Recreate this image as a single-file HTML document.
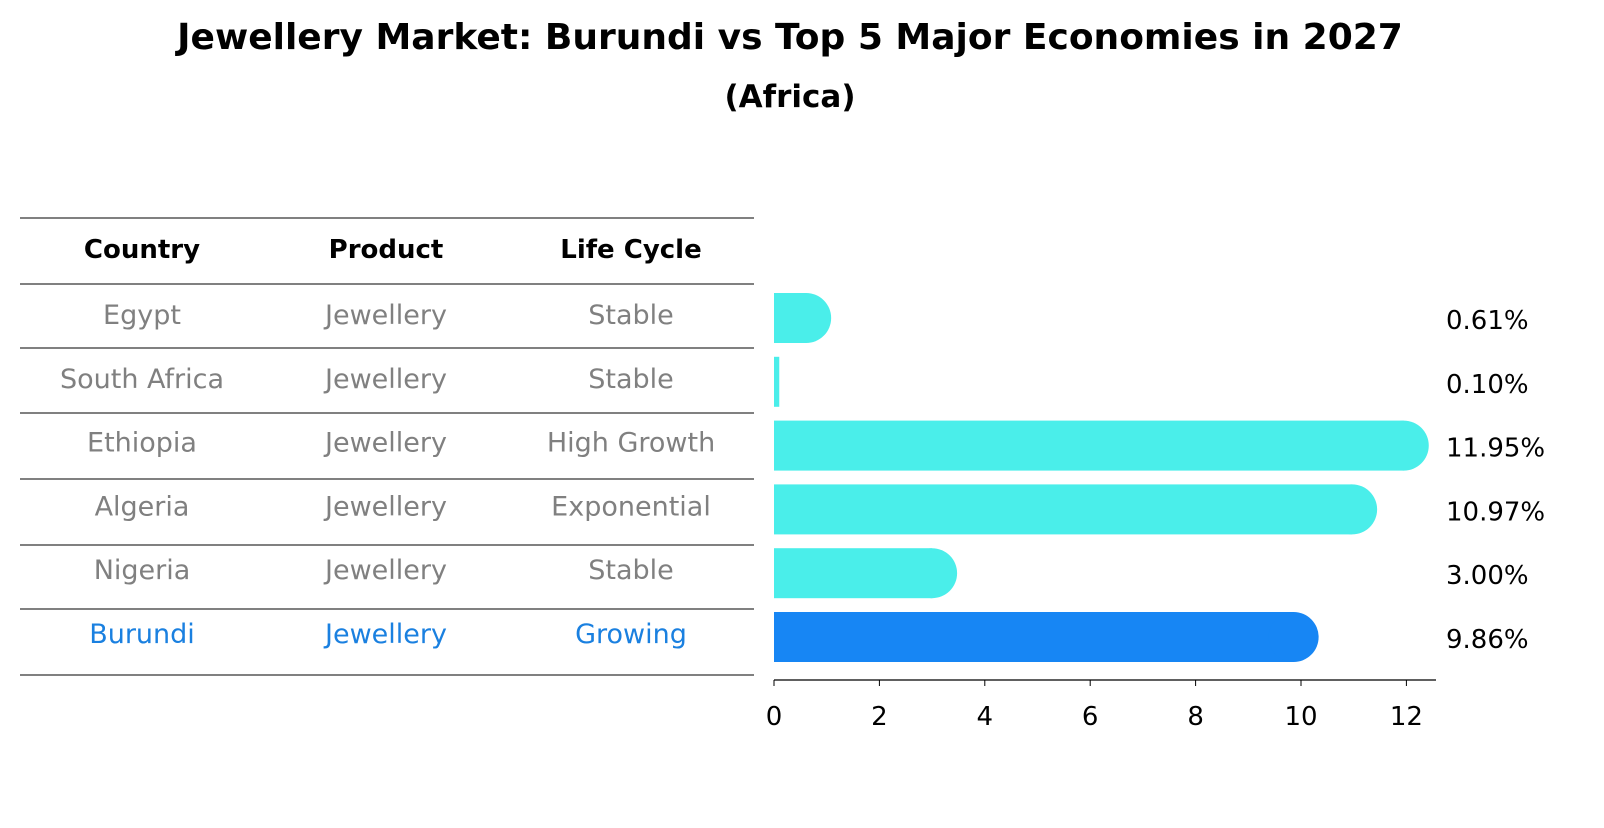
<!DOCTYPE html>
<html><head><meta charset="utf-8"><style>
body{margin:0;background:#fff;font-family:"Liberation Sans","DejaVu Sans",sans-serif;}
svg text{font-family:"DejaVu Sans","Liberation Sans",sans-serif;}
</style></head><body>
<svg id="c" width="1604" height="823" xmlns="http://www.w3.org/2000/svg">
<text x="790" y="49" text-anchor="middle" font-size="36" font-weight="bold">Jewellery Market: Burundi vs Top 5 Major Economies in 2027</text>
<text x="790" y="107" text-anchor="middle" font-size="31" font-weight="bold">(Africa)</text>
<g id="tbl"></g>
<g id="bars"></g>
<g id="axis"></g>
</svg>
<script>
const countries=["Egypt","South Africa","Ethiopia","Algeria","Nigeria","Burundi"];
const products=["Jewellery","Jewellery","Jewellery","Jewellery","Jewellery","Jewellery"];
const lifeCycles=["Stable","Stable","High Growth","Exponential","Stable","Growing"];
const values=[0.61,0.10,11.95,10.97,3.00,9.86];
const valueLabels=["0.61%","0.10%","11.95%","10.97%","3.00%","9.86%"];
const ticks=[0,2,4,6,8,10,12];
const NS="http://www.w3.org/2000/svg";
function mk(t,a,p,txt){const e=document.createElementNS(NS,t);for(const k in a)e.setAttribute(k,a[k]);if(txt!==undefined)e.textContent=txt;p.appendChild(e);return e;}
const x0=774,ppu=52.7;const xs=v=>x0+v*ppu;
const yC=i=>318+i*63.8;
const tbl=document.getElementById('tbl');
const lines=[218,284,348,413,479,545,609,675];
lines.forEach((y,i)=>{const l=mk('line',{x1:20,x2:754,y1:y,y2:y,stroke:'#000','stroke-width':1},tbl);

});
const colX=[142,386,631];
["Country","Product","Life Cycle"].forEach((h,j)=>{const t=mk('text',{x:colX[j],y:258,'text-anchor':'middle','font-size':26,'font-weight':'bold'},tbl,h);

});
countries.forEach((c,i)=>{const col=i===5?'#1a80e0':'#808080';const y=yC(i)+6;
[c,products[i],lifeCycles[i]].forEach((s,j)=>{const t=mk('text',{x:colX[j],y:y,'text-anchor':'middle','font-size':27,fill:col},tbl,s);

});});
const bars=document.getElementById('bars');const h=50,r=25;
values.forEach((v,i)=>{const col=i===5?'#1786f4':'#4aeeea';const yc=yC(i);const xe=xs(v);
const g=mk('g',{},bars);


mk('rect',{x:x0,y:yc-h/2,width:Math.max(xe-x0,1),height:h,fill:col},g);
if(v>0.3)mk('circle',{cx:xe,cy:yc,r:r,fill:col},g);
const t=mk('text',{x:1446,y:yc+11,'font-size':26},bars,valueLabels[i]);

});
const ax=document.getElementById('axis');
mk('line',{x1:x0,x2:1436,y1:680,y2:680,stroke:'#000','stroke-width':1.2},ax);
ticks.forEach(v=>{mk('line',{x1:xs(v),x2:xs(v),y1:680,y2:686,stroke:'#000'},ax);
const t=mk('text',{x:xs(v),y:725,'text-anchor':'middle','font-size':26},ax,String(v));

});
</script>
</body></html>
